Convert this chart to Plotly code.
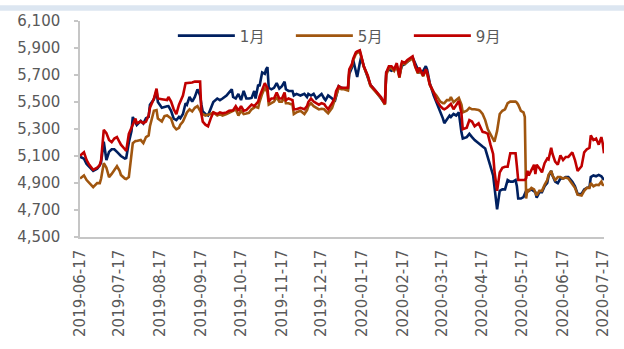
import plotly.graph_objects as go

# Trading dates and settlement prices of the 1月 / 5月 / 9月 contracts
dates = [
    "2019-06-17", "2019-06-20", "2019-06-22", "2019-06-24", "2019-06-27", "2019-06-30",
    "2019-07-02", "2019-07-03", "2019-07-05", "2019-07-07", "2019-07-09", "2019-07-11",
    "2019-07-13", "2019-07-15", "2019-07-17", "2019-07-18", "2019-07-21", "2019-07-22",
    "2019-07-24", "2019-07-26", "2019-07-27", "2019-07-29", "2019-07-30", "2019-08-02",
    "2019-08-04", "2019-08-06", "2019-08-08", "2019-08-09", "2019-08-11", "2019-08-12",
    "2019-08-14", "2019-08-15", "2019-08-18", "2019-08-20", "2019-08-22", "2019-08-23",
    "2019-08-25", "2019-08-27", "2019-08-29", "2019-08-31", "2019-09-01", "2019-09-03",
    "2019-09-05", "2019-09-06", "2019-09-08", "2019-09-10", "2019-09-12", "2019-09-14",
    "2019-09-16", "2019-09-17", "2019-09-18", "2019-09-20", "2019-09-22", "2019-09-24",
    "2019-09-26", "2019-09-29", "2019-10-01", "2019-10-03", "2019-10-06", "2019-10-08",
    "2019-10-10", "2019-10-11", "2019-10-13", "2019-10-15", "2019-10-17", "2019-10-19",
    "2019-10-21", "2019-10-23", "2019-10-25", "2019-10-27", "2019-10-28", "2019-10-30",
    "2019-10-31", "2019-11-02", "2019-11-04", "2019-11-05", "2019-11-06", "2019-11-07",
    "2019-11-09", "2019-11-11", "2019-11-13", "2019-11-15", "2019-11-17", "2019-11-19",
    "2019-11-20", "2019-11-22", "2019-11-25", "2019-11-26", "2019-11-28", "2019-12-01",
    "2019-12-04", "2019-12-06", "2019-12-07", "2019-12-09", "2019-12-11", "2019-12-13",
    "2019-12-15", "2019-12-17", "2019-12-19", "2019-12-20", "2019-12-22", "2019-12-25",
    "2019-12-27", "2019-12-28", "2019-12-30", "2020-01-01", "2020-01-03", "2020-01-06",
    "2020-01-07", "2020-01-09", "2020-01-10", "2020-01-12", "2020-01-13", "2020-01-15",
    "2020-01-16", "2020-01-18", "2020-01-21", "2020-01-23", "2020-01-27", "2020-01-31",
    "2020-02-03", "2020-02-04", "2020-02-06", "2020-02-08", "2020-02-10", "2020-02-12",
    "2020-02-14", "2020-02-15", "2020-02-16", "2020-02-18", "2020-02-20", "2020-02-22",
    "2020-02-24", "2020-02-26", "2020-02-28", "2020-02-29", "2020-03-03", "2020-03-05",
    "2020-03-06", "2020-03-08", "2020-03-11", "2020-03-13", "2020-03-16", "2020-03-18",
    "2020-03-19", "2020-03-21", "2020-03-23", "2020-03-24", "2020-03-26", "2020-03-28",
    "2020-03-30", "2020-04-01", "2020-04-02", "2020-04-05", "2020-04-07", "2020-04-09",
    "2020-04-11", "2020-04-14", "2020-04-15", "2020-04-17", "2020-04-19", "2020-04-21",
    "2020-04-23", "2020-04-25", "2020-04-26", "2020-04-28", "2020-04-30", "2020-05-02",
    "2020-05-04", "2020-05-06", "2020-05-08", "2020-05-10", "2020-05-12", "2020-05-13",
    "2020-05-14", "2020-05-16", "2020-05-18", "2020-05-19", "2020-05-20", "2020-05-21",
    "2020-05-22", "2020-05-24", "2020-05-26", "2020-05-27", "2020-05-28", "2020-05-30",
    "2020-06-01", "2020-06-03", "2020-06-05", "2020-06-06", "2020-06-08", "2020-06-09",
    "2020-06-11", "2020-06-13", "2020-06-15", "2020-06-17", "2020-06-19", "2020-06-21",
    "2020-06-22", "2020-06-24", "2020-06-26", "2020-06-28", "2020-07-01", "2020-07-03",
    "2020-07-05", "2020-07-07", "2020-07-08", "2020-07-10", "2020-07-12", "2020-07-14",
    "2020-07-16", "2020-07-17", "2020-07-18",
]

jan = [
    5095, 5080, 5040, 5020, 4990, 5005, 5030, 5055, 5206, 5070, 5130, 5150,
    5150, 5130, 5110, 5100, 5081, 5085, 5200, 5285, 5389, 5340, 5330, 5360,
    5340, 5380, 5390, 5480, 5510, 5520, 5582, 5500, 5457, 5465, 5469, 5470,
    5435, 5377, 5366, 5389, 5380, 5411, 5491, 5480, 5537, 5503, 5537, 5594,
    5548, 5480, 5430, 5411, 5400, 5450, 5500, 5526, 5514, 5526, 5548, 5571,
    5594, 5537, 5526, 5560, 5514, 5582, 5526, 5526, 5530, 5582, 5526, 5628,
    5617, 5719, 5708, 5742, 5758, 5605, 5594, 5605, 5640, 5599, 5617, 5651,
    5594, 5582, 5582, 5548, 5560, 5548, 5560, 5537, 5560, 5548, 5560, 5526,
    5540, 5560, 5526, 5514, 5548, 5526, 5503, 5548, 5617, 5605, 5600, 5594,
    5708, 5754, 5811, 5719, 5685, 5788, 5833, 5765, 5685, 5628, 5582, 5530,
    5487, 5719, 5742, 5731, 5742, 5765, 5697, 5740, 5770, 5780, 5800, 5815,
    5830, 5788, 5740, 5719, 5730, 5765, 5740, 5640, 5548, 5503, 5435, 5377,
    5343, 5377, 5400, 5389, 5411, 5400, 5423, 5275, 5229, 5240, 5264, 5240,
    5218, 5195, 5184, 5170, 5155, 5080, 5024, 4956, 4860, 4705, 4842, 4853,
    4853, 4922, 4910, 4910, 4922, 4876, 4785, 4785, 4796, 4820, 4842, 4842,
    4842, 4853, 4840, 4831, 4792, 4831, 4831, 4876, 4900, 4950, 4990, 4956,
    4910, 4899, 4933, 4933, 4944, 4944, 4933, 4910, 4876, 4819, 4819, 4853,
    4864, 4869, 4944, 4956, 4950, 4960, 4950, 4933, 4922,
]

may = [
    4933, 4956, 4922, 4899, 4869, 4899, 4899, 4933, 5047, 5013, 4944, 4967,
    5001, 5024, 4990, 4960, 4933, 4929, 4944, 5115, 5195, 5211, 5211, 5218,
    5195, 5240, 5252, 5320, 5400, 5435, 5440, 5377, 5355, 5395, 5400, 5390,
    5377, 5320, 5298, 5309, 5332, 5355, 5411, 5423, 5446, 5430, 5457, 5469,
    5435, 5411, 5411, 5400, 5405, 5411, 5423, 5400, 5411, 5400, 5411, 5423,
    5430, 5435, 5446, 5400, 5435, 5411, 5415, 5420, 5446, 5457, 5465, 5457,
    5500, 5560, 5605, 5590, 5571, 5480, 5491, 5503, 5537, 5503, 5503, 5537,
    5491, 5491, 5480, 5411, 5423, 5435, 5411, 5440, 5470, 5491, 5469, 5457,
    5445, 5450, 5446, 5435, 5416, 5457, 5515, 5560, 5605, 5594, 5594, 5585,
    5730, 5770, 5810, 5855, 5865, 5875, 5840, 5760, 5690, 5620, 5575, 5530,
    5480, 5700, 5750, 5750, 5730, 5770, 5680, 5750, 5790, 5780, 5800, 5810,
    5825, 5760, 5710, 5745, 5690, 5735, 5710, 5628, 5571, 5548, 5503, 5491,
    5491, 5514, 5514, 5537, 5498, 5514, 5530, 5480, 5423, 5435, 5457, 5446,
    5446, 5440, 5435, 5411, 5366, 5298, 5264, 5230, 5206, 5286, 5411, 5435,
    5446, 5491, 5503, 5503, 5503, 5495, 5480, 5435, 5423, 5389, 4785, 4853,
    4842, 4864, 4853, 4830, 4808, 4842, 4842, 4887, 4922, 4960, 4990, 4956,
    4922, 4944, 4944, 4933, 4940, 4933, 4920, 4899, 4864, 4814, 4808, 4842,
    4864, 4864, 4899, 4876, 4887, 4885, 4910, 4887, 4882,
]

sep = [
    5102, 5127, 5070, 5035, 4997, 5013, 5035, 5070, 5293, 5270, 5218, 5202,
    5229, 5240, 5202, 5184, 5150, 5138, 5264, 5302, 5332, 5377, 5343, 5355,
    5343, 5355, 5400, 5457, 5500, 5526, 5599, 5526, 5521, 5515, 5514, 5537,
    5503, 5446, 5410, 5480, 5503, 5548, 5640, 5640, 5642, 5644, 5651, 5651,
    5651, 5411, 5355, 5332, 5320, 5377, 5423, 5411, 5423, 5416, 5423, 5435,
    5437, 5439, 5469, 5435, 5469, 5435, 5440, 5457, 5480, 5469, 5480, 5503,
    5540, 5590, 5640, 5620, 5605, 5503, 5526, 5526, 5571, 5526, 5526, 5571,
    5514, 5526, 5514, 5446, 5446, 5457, 5446, 5470, 5500, 5526, 5503, 5491,
    5480, 5491, 5485, 5470, 5446, 5491, 5530, 5580, 5617, 5605, 5605, 5605,
    5742, 5780, 5822, 5868, 5875, 5883, 5845, 5765, 5697, 5628, 5582, 5537,
    5487, 5719, 5765, 5765, 5742, 5788, 5685, 5765, 5799, 5790, 5811, 5822,
    5838, 5765, 5719, 5754, 5697, 5742, 5719, 5630, 5571, 5514, 5469, 5450,
    5446, 5457, 5480, 5485, 5446, 5480, 5507, 5416, 5298, 5309, 5366, 5355,
    5320, 5343, 5320, 5279, 5275, 5264, 5184, 5115, 4990, 4842, 4979, 5013,
    5020, 5020, 5120, 5120, 5120, 5025, 4922, 4922, 4922, 4922, 4935, 4990,
    4956, 5001, 5035, 4967, 5035, 5010, 4979, 5047, 5081, 5075, 5161, 5115,
    5058, 5035, 5104, 5070, 5093, 5093, 5104, 5127, 5070, 4990, 5024, 5127,
    5150, 5161, 5252, 5218, 5229, 5184, 5240, 5195, 5120,
]

month_ticks = [
    "2019-06-17", "2019-07-17", "2019-08-17", "2019-09-17", "2019-10-17",
    "2019-11-17", "2019-12-17", "2020-01-17", "2020-02-17", "2020-03-17",
    "2020-04-17", "2020-05-17", "2020-06-17", "2020-07-17",
]
y_ticks = [4500, 4700, 4900, 5100, 5300, 5500, 5700, 5900, 6100]

series = [
    ("1月", jan, "#002060"),
    ("5月", may, "#A0560F"),
    ("9月", sep, "#C00000"),
]

FONT = "DejaVu Sans, Noto Sans CJK SC, sans-serif"
GREY_TEXT = "#595959"
AXIS = "#c6c6c6"

fig = go.Figure()
for name, vals, color in series:
    fig.add_trace(go.Scatter(
        x=dates, y=vals, name=name, mode="lines",
        line=dict(color=color, width=2.6),
    ))

fig.update_layout(
    width=624, height=349,
    margin=dict(l=80, r=13, t=16, b=99),
    paper_bgcolor="white", plot_bgcolor="white",
    font=dict(family=FONT, color=GREY_TEXT, size=15),
    showlegend=True,
    legend=dict(
        orientation="h", x=0.515, xanchor="center", y=0.931, yanchor="middle",
        bgcolor="rgba(0,0,0,0)", font=dict(size=15, color=GREY_TEXT),
        itemwidth=57, entrywidth=46, entrywidthmode="pixels",
    ),
    xaxis=dict(
        type="date", range=["2019-06-17", "2020-07-18"],
        tickvals=month_ticks, tickformat="%Y-%m-%d", tickangle=-90,
        showgrid=False, zeroline=False,
        showline=True, linecolor=AXIS, linewidth=1.5,
        ticks="", ticklabelstandoff=5,
        tickfont=dict(size=15, color=GREY_TEXT),
    ),
    yaxis=dict(
        range=[4500, 6100], tickvals=y_ticks, tickformat=",",
        showgrid=False, zeroline=False,
        showline=True, linecolor=AXIS, linewidth=1.5,
        ticks="outside", ticklen=4, tickcolor=AXIS, tickwidth=1.5,
        ticklabelstandoff=11,
        tickfont=dict(size=15, color=GREY_TEXT),
    ),
    shapes=[dict(
        type="rect", xref="paper", yref="paper",
        x0=-1, x1=2, y0=1 + 11 / 234, y1=1 + 17 / 234,
        fillcolor="#dce6f1", line=dict(width=0), layer="below",
    )],
)

fig.write_html("out.html")
